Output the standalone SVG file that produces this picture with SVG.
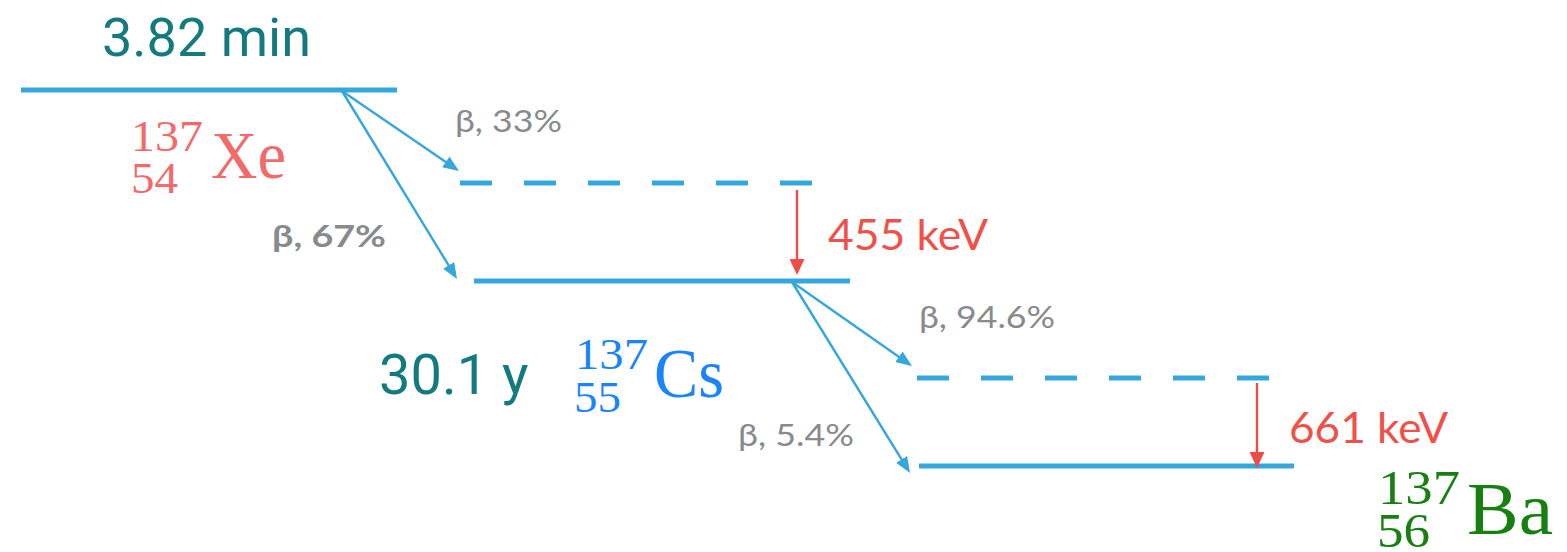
<svg xmlns="http://www.w3.org/2000/svg" width="1567" height="552" viewBox="0 0 1567 552">
<style>
.lvl{stroke:#35a7dc;stroke-width:5;fill:none}
.dash{stroke-dasharray:32 32}
.beta{stroke:#35a7dc;stroke-width:2.4;fill:none;marker-end:url(#ab)}
.gam{stroke:#ee4d47;stroke-width:2.4;fill:none;marker-end:url(#ar)}
.time{font-family:Roboto,"Liberation Sans",sans-serif;fill:#137a80}
.lab{font-family:Lato,"Liberation Sans",sans-serif;fill:#888a8c;font-size:31px}
.kev{font-family:Lato,"Liberation Sans",sans-serif;fill:#ef5149;font-size:43px}
.iso{font-family:"Liberation Serif",serif}
</style>
<defs>
<marker id="ab" viewBox="0 0 16 13" refX="12" refY="6.5" markerWidth="16" markerHeight="13" markerUnits="userSpaceOnUse" orient="auto"><path d="M0,0 L16,6.5 L0,13 z" fill="#35a7dc"/></marker>
<marker id="ar" viewBox="0 0 16 15" refX="12" refY="7.5" markerWidth="16" markerHeight="15" markerUnits="userSpaceOnUse" orient="auto"><path d="M0,0 L16,7.5 L0,15 z" fill="#ee4d47"/></marker>
</defs>
<g id="xe">
<line class="lvl" x1="21" y1="90" x2="397" y2="90"/>
<text class="time" x="102" y="56" font-size="54">3.82 min</text>
<g class="iso" fill="#f26a6a"><text x="131" y="151" font-size="44" textLength="72" lengthAdjust="spacingAndGlyphs">137</text><text x="131" y="193" font-size="44" textLength="47" lengthAdjust="spacingAndGlyphs">54</text><text x="211" y="178" font-size="68" textLength="75" lengthAdjust="spacingAndGlyphs">Xe</text></g>
</g>
<g id="cs-excited"><line class="lvl dash" x1="460" y1="183" x2="812" y2="183"/></g>
<g id="cs">
<line class="lvl" x1="474" y1="281" x2="850" y2="281"/>
<text class="time" x="379" y="394" font-size="56">30.1 y</text>
<g class="iso" fill="#1a84fa"><text x="575" y="369" font-size="44" textLength="73" lengthAdjust="spacingAndGlyphs">137</text><text x="574" y="412" font-size="44" textLength="47" lengthAdjust="spacingAndGlyphs">55</text><text x="654" y="397" font-size="69" textLength="70" lengthAdjust="spacingAndGlyphs">Cs</text></g>
</g>
<g id="ba-excited"><line class="lvl dash" x1="917" y1="378" x2="1269" y2="378"/></g>
<g id="ba">
<line class="lvl" x1="919" y1="466" x2="1294" y2="466"/>
<g class="iso" fill="#178010"><text x="1378" y="504" font-size="48" textLength="82" lengthAdjust="spacingAndGlyphs">137</text><text x="1377" y="547" font-size="48" textLength="53" lengthAdjust="spacingAndGlyphs">56</text><text x="1467" y="534" font-size="73" textLength="86" lengthAdjust="spacingAndGlyphs">Ba</text></g>
</g>
<g id="connectors">
<line class="beta" x1="342" y1="91" x2="455.7" y2="168.7"/>
<line class="beta" x1="342" y1="91" x2="454.9" y2="275.6"/>
<line class="beta" x1="792" y1="282" x2="908.7" y2="363.7"/>
<line class="beta" x1="792" y1="282" x2="907.9" y2="469.6"/>
<line class="gam" x1="797" y1="190" x2="797" y2="271"/>
<line class="gam" x1="1257" y1="383" x2="1257" y2="464"/>
<text class="lab" x="455" y="132" textLength="107" lengthAdjust="spacingAndGlyphs">β, 33%</text>
<text class="lab" x="272" y="247" font-weight="bold" fill="#7d8083" font-size="32" textLength="114" lengthAdjust="spacingAndGlyphs">β, 67%</text>
<text class="lab" x="919" y="328" textLength="136" lengthAdjust="spacingAndGlyphs">β, 94.6%</text>
<text class="lab" x="738" y="446" textLength="116" lengthAdjust="spacingAndGlyphs">β, 5.4%</text>
<text class="kev" x="828" y="250" textLength="160" lengthAdjust="spacingAndGlyphs">455 keV</text>
<text class="kev" x="1289" y="443" textLength="159" lengthAdjust="spacingAndGlyphs">661 keV</text>
</g>
</svg>
